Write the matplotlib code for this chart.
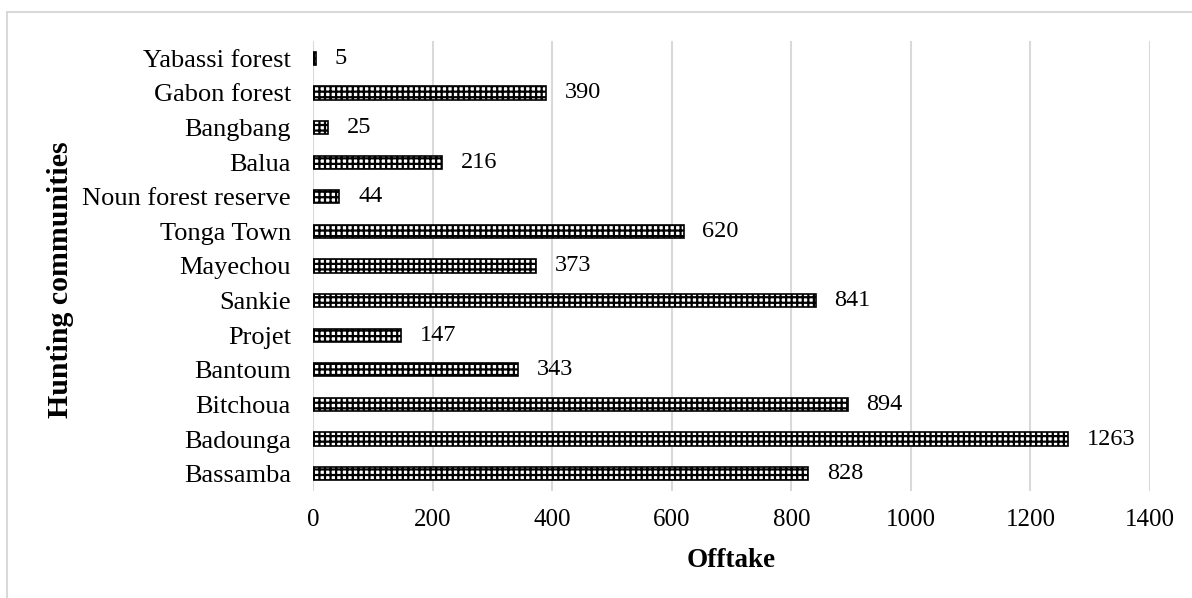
import matplotlib.pyplot as plt
import matplotlib.patches as mpatches

plt.rcParams['font.family'] = ['Liberation Serif', 'DejaVu Serif']
plt.rcParams['hatch.linewidth'] = 1.6

# communities from bottom to top
communities = ['Bassamba', 'Badounga', 'Bitchoua', 'Bantoum', 'Projet', 'Sankie',
               'Mayechou', 'Tonga Town', 'Noun forest reserve', 'Balua', 'Bangbang',
               'Gabon forest', 'Yabassi forest']
offtake = [828, 1263, 894, 343, 147, 841, 373, 620, 44, 216, 25, 390, 5]
xticks = [0, 200, 400, 600, 800, 1000, 1200, 1400]

fig = plt.figure(figsize=(11.92, 5.98), dpi=100)
ax = fig.add_axes([0.2626, 0.179, 0.7022, 0.7524])

bars = ax.barh(range(len(communities)), offtake, height=0.38, color='white',
               edgecolor='black', linewidth=1.2, hatch='+++', zorder=3)
for i, v in enumerate(offtake):
    ax.annotate(str(v), (v, i), xytext=(13.5, 0), textcoords='offset points',
                va='center', ha='left', fontsize=17.5)

ax.set_yticks(range(len(communities)))
ax.set_yticklabels(communities, fontsize=19)
ax.set_xticks(xticks)
ax.set_xticklabels([str(t) for t in xticks], fontsize=18)
ax.set_xlim(0, 1400)
ax.set_ylim(-0.5, len(communities) - 0.5)
ax.tick_params(axis='y', length=0, pad=16)
ax.tick_params(axis='x', length=0, pad=13)
ax.xaxis.grid(True, color='#d9d9d9', linewidth=1.5, zorder=0)
ax.set_axisbelow(True)
for s in ax.spines.values():
    s.set_visible(False)

ax.set_xlabel('Offtake', fontsize=19.5, fontweight='bold', labelpad=12)
ax.set_ylabel('Hunting communities', fontsize=21.5, fontweight='bold',
              va='center', ha='center')
ax.yaxis.set_label_coords(-0.302, 0.469)

# light frame round the chart
fig.patches.append(mpatches.Rectangle((7 / 1192, -0.1), 1.2, 1 - 12 / 598 + 0.1,
                                      transform=fig.transFigure, fill=False,
                                      edgecolor='#d9d9d9', linewidth=1.5))

fig.savefig('out.png', dpi=100)
